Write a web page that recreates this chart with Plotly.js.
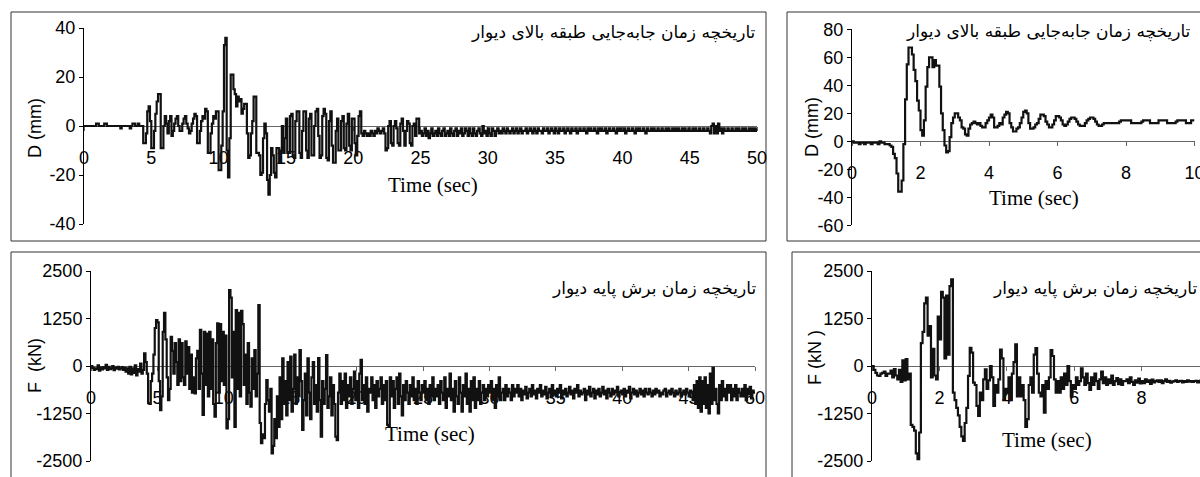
<!DOCTYPE html>
<html>
<head>
<meta charset="utf-8">
<script src="https://cdn.plot.ly/plotly-3.0.1.min.js"></script>
<style>html,body{margin:0;padding:0;background:#fff;}#chart{width:1200px;height:477px;}</style>
</head>
<body>
<div id="chart"></div>
<script>
// ---------------- data ----------------
// Top-left: roof displacement history, 0-50 s, sampled every 0.1 s (mm)
const dispLongStep = 0.1;
const dispLong = [
0,0,0,0,0,0,0,0,0,1,
1,0,0,0,0,1,1,0,0,0,
0,0,0,0,0,0,0,-1,0,0,
0,0,0,0,-1,0,1,1,0,0,
1,0,0,0,-7,-7,-3,6,8,2,
-9,-9,-2,5,10,13,13,-9,-9,0,
4,1,-3,2,4,-4,-2,1,3,4,
0,-2,-2,1,3,4,1,-1,-3,-2,
1,3,5,4,-7,-7,-2,2,4,3,
7,6,-11,-11,-3,1,4,3,6,6,
-18,-18,-8,6,33,36,-10,-21,-5,21,
21,15,13,8,12,10,11,5,7,9,
9,-3,-13,-12,-3,2,12,12,-11,-11,
-12,-20,-19,-5,1,-3,-22,-28,-20,-9,
-12,-19,-21,-9,-9,-15,-10,0,-11,-5,
3,-11,-11,4,5,-12,-13,2,6,6,
-11,-13,-2,6,6,-10,-13,3,5,-12,
-12,0,6,7,-4,-13,-12,4,7,5,
-13,-14,2,6,-8,-15,-15,-2,3,-10,
-10,2,4,-9,-10,1,5,-8,-10,3,
3,-7,-12,-4,4,6,-3,-4,-2,-3,
-4,-3,-4,-2,-3,-4,-2,-3,-1,-2,
-3,-2,-1,-3,-10,-9,0,2,-7,-8,
0,2,-1,-7,-8,1,3,-2,-8,-2,
2,1,-7,-8,0,1,-4,3,3,-3,
-2,-4,-3,-1,-4,-2,-5,-3,-1,-4,
-3,-2,-4,-1,-3,-4,-2,-1,-4,-3,
-2,-4,-1,-3,-4,-2,-1,-4,-2,-3,
-1,-4,-3,-1,-2,-4,-1,-3,-4,-1,
-3,-4,-2,-1,-3,-4,0,-3,-2,-4,
-1,-3,-4,-1,-2,-4,-2,-1,-3,-2,
-3,-1,-2,-3,-1,-2,-3,-2,-1,-3,
-2,-1,-3,-2,-1,-3,-2,-2,-1,-3,
-2,-1,-2,-3,-1,-2,-3,-1,-2,-2,
-3,-1,-2,-2,-1,-3,-2,-1,-2,-3,
-1,-2,-3,-1,-2,-2,-1,-3,-2,-1,
-2,-3,-1,-2,-2,-1,-3,-2,-1,-2,
-2,-1,-2,-3,-1,-2,-1,-2,-2,-1,
-2,-3,-1,-2,-1,-2,-2,-1,-3,-2,
-1,-2,-2,-1,-2,-3,-1,-2,-1,-2,
-2,-1,-3,-2,-1,-2,-2,-1,-2,-3,
-1,-2,-1,-2,-2,-1,-2,-3,-1,-2,
-2,-1,-2,-1,-2,-2,-1,-2,-2,-1,
-2,-2,-1,-2,-1,-2,-2,-1,-2,-1,
-2,-1,-2,-2,-1,-2,-1,-2,-2,-1,
-2,-2,-1,-2,-1,-2,-2,-1,-2,-2,
-1,-2,-2,-1,-2,-3,0,1,-3,0,
-3,1,-2,-1,-3,-1,-2,-2,-1,-2,
-2,-1,-2,-2,-1,-2,-1,-2,-2,-1,
-2,-1,-2,-2,-1,-2,-1,-2,-1,-2,
-1
];

// Top-right: roof displacement history, 0-10 s, sampled every 0.05 s (mm)
const dispShortStep = 0.05;
const dispShort = [
0,-1,-1,-1,-2,-1,-1,-2,-1,-1,
-1,-2,-1,-1,-1,-2,0,-1,-1,-2,
-2,-2,-3,-4,-9,-12,-23,-36,-36,-28,
-2,30,55,67,67,62,51,43,29,22,
8,4,15,39,53,60,60,53,58,54,
54,39,20,8,-3,-8,-7,3,13,17,
20,20,17,15,10,9,5,4,9,12,
13,14,13,12,13,11,10,10,13,15,
17,19,17,10,10,11,13,12,17,19,
21,20,13,10,7,7,9,10,13,17,
21,22,20,13,9,9,10,12,13,16,
19,19,18,14,12,10,10,12,15,18,
18,17,15,12,11,12,14,16,17,17,
16,14,12,11,11,11,13,15,16,17,
17,16,14,12,11,11,12,13,13,13,
13,13,13,13,13,13,14,15,15,15,
15,15,15,13,13,13,13,13,13,14,
15,15,15,15,13,13,13,13,13,15,
15,15,15,15,13,13,13,13,13,14,
15,15,15,15,15,13,13,13,15,15,
15
];

// Bottom-left: base shear history, 0-50 s, sampled every 0.1 s (kN)
const forceLongStep = 0.1;
const forceLong = [
0,-50,-100,-60,-80,20,-120,-40,-90,-30,
-60,30,-100,-20,-80,-60,0,-110,-40,-70,
-20,-90,-60,-30,-100,-50,-150,-60,-200,-20,
-220,-60,-180,20,-250,-80,-150,60,-200,-100,
330,100,-200,-980,-1000,-400,-200,300,1000,1210,
1150,-400,-1160,-800,900,1400,700,-300,-900,-600,
770,400,-200,600,100,-500,700,-400,600,-300,
-500,650,-200,500,-600,300,-700,-300,-720,200,
400,-600,950,-200,-1290,900,-500,850,-800,900,
-600,700,-1000,-1330,600,1120,-700,1100,-400,900,
-500,800,-1640,-1400,2000,1800,-300,900,-1600,1470,
-600,1400,-800,1450,1100,-500,300,-1000,600,-700,
-1070,200,-600,420,-800,-200,1600,-1500,-2030,-1800,
-1900,-1000,-370,-900,-1200,-600,-2300,-2100,-1400,-1900,
-800,-1600,-300,-1400,200,-1000,-400,-1300,100,-900,
250,-1200,-600,300,-1000,-300,-800,420,-400,-1680,
-900,-200,-1300,200,-700,-1400,-300,100,-1000,-500,
-1200,210,-900,-1860,-400,-1000,-600,290,-1100,-800,
-300,-1300,-500,-1000,-1860,-1950,-700,-200,-1000,-400,
-900,-200,-1100,-500,-800,-300,-1000,-600,-150,-900,
-400,-1100,-200,160,-900,-500,-1000,-300,-1200,-600,
-700,-300,-900,-500,-1100,-400,-800,-600,-300,-1000,
-500,-900,-400,-1550,-1600,-300,-800,-400,-1100,-600,
-300,-1000,-200,-800,-1300,-500,-900,-400,-700,-1000,
-500,-800,-300,-900,-600,-1000,-400,-700,-900,-500,
-700,-400,-900,-600,-1000,-500,-800,-300,-900,-600,
-800,-500,-1000,-400,-700,-900,-300,-1100,-600,-800,
-200,-900,-600,-1200,-400,-800,-1000,-300,-700,-1200,
-500,-800,-200,-1000,-600,-1200,-400,-900,-300,-1100,
-600,-900,-400,-1000,-700,-500,-900,-600,-800,-500,
-700,-400,-900,-600,-1100,-500,-800,-300,-900,-700,
-600,-900,-500,-800,-600,-700,-900,-500,-800,-600,
-700,-500,-800,-600,-900,-650,-750,-550,-850,-700,
-600,-800,-500,-750,-650,-850,-600,-700,-500,-800,
-650,-750,-550,-850,-700,-600,-800,-500,-750,-650,
-800,-600,-700,-500,-850,-650,-750,-600,-800,-700,
-550,-750,-650,-850,-600,-700,-500,-800,-650,-750,
-700,-600,-900,-650,-750,-550,-800,-700,-600,-850,
-650,-750,-600,-800,-700,-550,-750,-650,-850,-600,
-700,-800,-600,-750,-650,-700,-550,-800,-700,-650,
-750,-600,-800,-650,-700,-550,-850,-700,-600,-750,
-650,-800,-700,-600,-750,-650,-800,-600,-700,-750,
-600,-700,-800,-650,-750,-600,-700,-650,-800,-700,
-750,-650,-600,-800,-700,-650,-750,-600,-700,-800,
-650,-750,-700,-600,-800,-700,-650,-750,-600,-700,
-800,-650,-700,-900,-500,-1000,-400,-1100,-300,-1200,
-400,-1000,-300,-1100,-500,-1250,-200,-1000,-50,-900,
-600,-1000,-1250,-500,-900,-400,-800,-600,-900,-500,
-700,-500,-900,-600,-800,-500,-900,-600,-700,-800,
-600,-800,-500,-900,-600,-750,-550,-850,-650,-700,
-700
];

// Bottom-right: base shear history, 0-10 s, sampled every 0.05 s (kN)
const forceShortStep = 0.05;
const forceShort = [
0,-100,-180,-250,-260,-200,-180,-150,-260,-200,
-200,-120,-300,-80,-250,-350,-100,-420,150,-380,
180,-350,-200,-1550,-1600,-1700,-2300,-2450,-1750,600,
900,1650,1800,800,1050,-300,450,-250,-350,1300,
700,1950,1800,200,1850,300,2100,2280,-700,-900,
-1100,-1300,-1600,-1850,-1970,-1500,-1100,-260,480,350,
-440,-500,-1050,-1315,-700,-900,-350,-88,-600,-380,
0,-300,-1050,-500,-700,-350,430,200,-877,-600,
-700,-300,-900,-200,100,570,-800,-300,-800,-500,
-900,-1600,-1400,-500,-300,-700,300,470,-200,-700,
-800,-500,-1227,-400,-600,-300,420,263,-350,-700,
-400,-700,-300,-600,-200,-500,0,-400,-800,-500,
-600,-300,-500,-400,-60,-300,-500,-200,-450,-630,
-300,-500,-200,-400,-600,-350,-150,-450,-300,-500,
-350,-450,-250,-500,-400,-320,-480,-350,-500,-400,
-400,-350,-450,-300,-420,-500,-380,-440,-330,-460,
-400,-450,-350,-420,-380,-470,-360,-430,-400,-380,
-420,-380,-450,-400,-350,-420,-390,-440,-410,-400,
-380,-420,-400,-390,-430,-400,-420,-380,-410,-400,
-420,-400,-390,-430,-400,-380,-410,-400,-390,-420,
-380
];

// tick values
const tickLongX = [0,5,10,15,20,25,30,35,40,45,50];
const tickShortX = [0,2,4,6,8,10];
const tickDispLongY = [-40,-20,0,20,40];
const tickDispShortY = [-60,-40,-20,0,20,40,60,80];
const tickForceY = [-2500,-1250,0,1250,2500];

// texts
const titleDisp = 'تاریخچه زمان جابه\u200cجایی طبقه بالای دیوار';
const titleForce = 'تاریخچه زمان برش پایه دیوار';
const xTitle = 'Time (sec)';
const yTitleDisp = 'D (mm)';
const yTitleForceLong = 'F  (kN)';
const yTitleForceShort = 'F (kN )';

// ---------------- layout ----------------
const W = 1200, H = 477;
const fx = p => p / W;
const fy = p => 1 - p / H;
const LINE = {shape: 'hv', color: '#111', width: 2.2};
const tickFont = {family: 'Liberation Sans, Arial, sans-serif', size: 18, color: '#000'};
const sansTitle = {family: 'Liberation Sans, Arial, sans-serif', size: 18, color: '#000'};
const serifTitle = {family: 'Liberation Serif, Times New Roman, serif', size: 21, color: '#000'};
const hyphen = v => String(v); // plain hyphen-minus as in the reference

const panels = [
  {n: '', xPix: [84, 757], yPix: [28, 224], xr: [0, 50], yr: [-40, 40], xt: tickLongX, yt: tickDispLongY,
   ytitle: yTitleDisp, yTitlePix: [35, 128], xTitlePix: [433, 185], y: dispLong, dx: dispLongStep},
  {n: '2', xPix: [852, 1194.5], yPix: [29.3, 225.3], xr: [0, 10], yr: [-60, 80], xt: tickShortX, yt: tickDispShortY,
   ytitle: yTitleDisp, yTitlePix: [812, 127], xTitlePix: [1034, 198], y: dispShort, dx: dispShortStep},
  {n: '3', xPix: [91, 755], yPix: [271, 461], xr: [0, 50], yr: [-2500, 2500], xt: tickLongX, yt: tickForceY,
   ytitle: yTitleForceLong, yTitlePix: [35, 366], xTitlePix: [430, 434], y: forceLong, dx: forceLongStep},
  {n: '4', xPix: [872, 1200], yPix: [271, 461], xr: [0, 10 * (1200 - 872) / (1209 - 872)], yr: [-2500, 2500], xt: tickShortX, yt: tickForceY,
   ytitle: yTitleForceShort, yTitlePix: [815, 358], xTitlePix: [1047, 440], y: forceShort, dx: forceShortStep}
];

const layout = {
  width: W, height: H,
  margin: {l: 0, r: 0, t: 0, b: 0},
  paper_bgcolor: '#fff', plot_bgcolor: 'rgba(0,0,0,0)',
  showlegend: false,
  font: {family: 'Liberation Sans, Arial, sans-serif', color: '#000'},
  shapes: [], annotations: []
};
const traces = [];

panels.forEach(p => {
  const yDom = [fy(p.yPix[1]), fy(p.yPix[0])];
  const xDom = [fx(p.xPix[0]), Math.min(1, fx(p.xPix[1]))];
  const zeroPos = yDom[0] + (0 - p.yr[0]) / (p.yr[1] - p.yr[0]) * (yDom[1] - yDom[0]);
  layout['xaxis' + p.n] = {
    domain: xDom, range: p.xr, anchor: 'free', position: zeroPos,
    tickmode: 'array', tickvals: p.xt, ticktext: p.xt.map(hyphen),
    showline: true, linecolor: '#666', linewidth: 1,
    ticks: 'outside', ticklen: 4, tickcolor: '#666',
    showgrid: false, zeroline: false, fixedrange: true,
    tickfont: tickFont, ticklabelstandoff: 11, ticklabeloverflow: 'allow', layer: 'below traces'
  };
  layout['yaxis' + p.n] = {
    domain: yDom, range: p.yr, anchor: 'x' + p.n,
    tickmode: 'array', tickvals: p.yt, ticktext: p.yt.map(hyphen),
    showline: true, linecolor: '#000', linewidth: 1,
    ticks: 'outside', ticklen: 4, tickcolor: '#000',
    showgrid: false, zeroline: false, fixedrange: true,
    tickfont: tickFont, layer: 'below traces'
  };
  layout.annotations.push({
    xref: 'paper', yref: 'paper', x: fx(p.yTitlePix[0]), y: fy(p.yTitlePix[1]),
    xanchor: 'center', yanchor: 'middle', textangle: -90, showarrow: false,
    text: p.ytitle, font: sansTitle
  });
  layout.annotations.push({
    xref: 'paper', yref: 'paper', x: fx(p.xTitlePix[0]), y: fy(p.xTitlePix[1]),
    xanchor: 'center', yanchor: 'middle', showarrow: false,
    text: xTitle, font: serifTitle
  });
  traces.push({
    type: 'scatter', mode: 'lines', x0: 0, dx: p.dx, y: p.y,
    xaxis: 'x' + p.n, yaxis: 'y' + p.n, line: LINE, hoverinfo: 'skip'
  });
});

// panel frames
const frames = [[11, 12, 766, 241], [787, 12, 1210, 241], [11, 252, 766, 490], [792, 252, 1210, 490]];
frames.forEach(f => layout.shapes.push({
  type: 'rect', xref: 'paper', yref: 'paper',
  x0: fx(f[0]), x1: fx(f[2]), y0: fy(f[3]), y1: fy(f[1]),
  line: {color: '#333', width: 1}, fillcolor: 'rgba(0,0,0,0)', layer: 'below'
}));

// Persian panel captions
const persianFont = {family: 'DejaVu Sans, Noto Sans, sans-serif', size: 17, color: '#000'};
[[titleDisp, 758, 33], [titleDisp, 1193, 31], [titleForce, 758, 288], [titleForce, 1199, 288]].forEach(a => {
  layout.annotations.push({
    xref: 'paper', yref: 'paper', x: fx(a[1]), y: fy(a[2]),
    xanchor: 'right', yanchor: 'middle', showarrow: false,
    text: a[0], font: persianFont, bgcolor: 'rgba(0,0,0,0)'
  });
});

Plotly.newPlot('chart', traces, layout, {staticPlot: true, displayModeBar: false});
</script>
</body>
</html>
